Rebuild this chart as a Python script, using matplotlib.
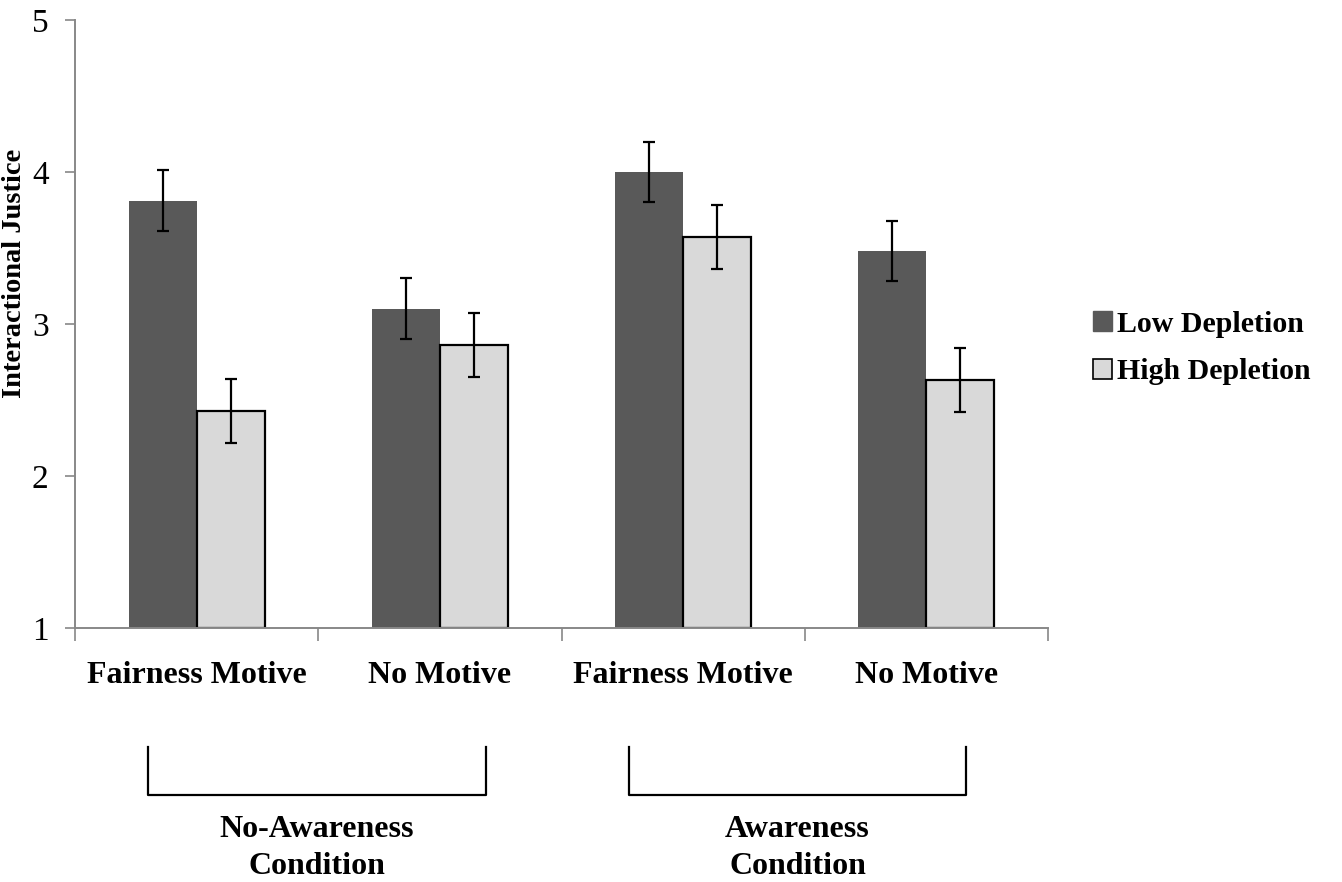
import matplotlib

matplotlib.use("Agg")
import matplotlib.pyplot as plt
from matplotlib.lines import Line2D

plt.rcParams["font.family"] = ["Liberation Serif", "DejaVu Serif"]

categories = ["Fairness Motive", "No Motive", "Fairness Motive", "No Motive"]
low_depletion = [3.81, 3.10, 4.00, 3.48]
high_depletion = [2.43, 2.86, 3.57, 2.63]
low_err = [0.20, 0.20, 0.20, 0.20]
high_err = [0.21, 0.21, 0.21, 0.21]
groups = ["No-Awareness\nCondition", "Awareness\nCondition"]
yticks = [1, 2, 3, 4, 5]

fig = plt.figure(figsize=(13.42, 8.82), dpi=100)
ax = fig.add_axes([75 / 1342, 1 - 628 / 882, (1048 - 75) / 1342, (628 - 20) / 882])

x = list(range(len(categories)))
w = 0.28
err_kw = dict(ecolor="black", elinewidth=1.6, capsize=4.2, capthick=1.6)
ax.bar([i - w / 2 for i in x], [v - 1 for v in low_depletion], w, bottom=1,
       color="#595959", yerr=low_err, error_kw=err_kw, label="Low Depletion", zorder=2)
ax.bar([i + w / 2 for i in x], [v - 1 for v in high_depletion], w, bottom=1,
       color="#d9d9d9", edgecolor="black", linewidth=1.6, yerr=high_err,
       error_kw=err_kw, label="High Depletion", zorder=2)

ax.set_xlim(-0.5, len(categories) - 0.5)
ax.set_ylim(1, 5)
ax.set_yticks(yticks)
ax.set_yticklabels([str(t) for t in yticks], fontsize=24)
ax.set_xticks(x)
ax.set_xticklabels(categories, fontsize=23, fontweight="bold")
ax.tick_params(axis="x", which="major", length=0, pad=24)
ax.set_xticks([i - 0.5 for i in range(len(categories) + 1)], minor=True)
ax.tick_params(axis="x", which="minor", length=9, color="#888888", width=1.2, direction="out")
ax.tick_params(axis="y", length=7, color="#888888", width=1.2, pad=12)

for side in ["top", "right"]:
    ax.spines[side].set_visible(False)
for side in ["left", "bottom"]:
    ax.spines[side].set_color("#888888")
    ax.spines[side].set_linewidth(1.4)

# y label sits tight against the tick numbers, as in the original
fig.text(15 / 1342, 1 - 273 / 882, "Interactional Justice", rotation=90, fontsize=20.5,
         fontweight="bold", ha="center", va="center")

handles = [
    plt.Rectangle((0, 0), 1, 1, facecolor="#595959", edgecolor="#595959"),
    plt.Rectangle((0, 0), 1, 1, facecolor="#d9d9d9", edgecolor="black", linewidth=1.2),
]
fig.legend(handles, ["Low Depletion", "High Depletion"], loc="center left",
           bbox_to_anchor=(1066 / 1342, 1 - 348 / 882), frameon=False,
           prop={"size": 21.5, "weight": "bold"}, handlelength=0.65, handleheight=0.65,
           handletextpad=0.15, labelspacing=0.7)

# group brackets under the axis
brackets = [(148, 486), (629, 966)]
for (x0, x1), name in zip(brackets, groups):
    fig.add_artist(Line2D([x0 / 1342, x0 / 1342, x1 / 1342, x1 / 1342],
                          [1 - 747 / 882, 1 - 795 / 882, 1 - 795 / 882, 1 - 747 / 882],
                          color="black", linewidth=1.6))
    fig.text((x0 + x1) / 2 / 1342, 1 - 848 / 882, name, fontsize=23, fontweight="bold",
             ha="center", va="center", linespacing=1.4)

fig.savefig("out.png", dpi=100)
